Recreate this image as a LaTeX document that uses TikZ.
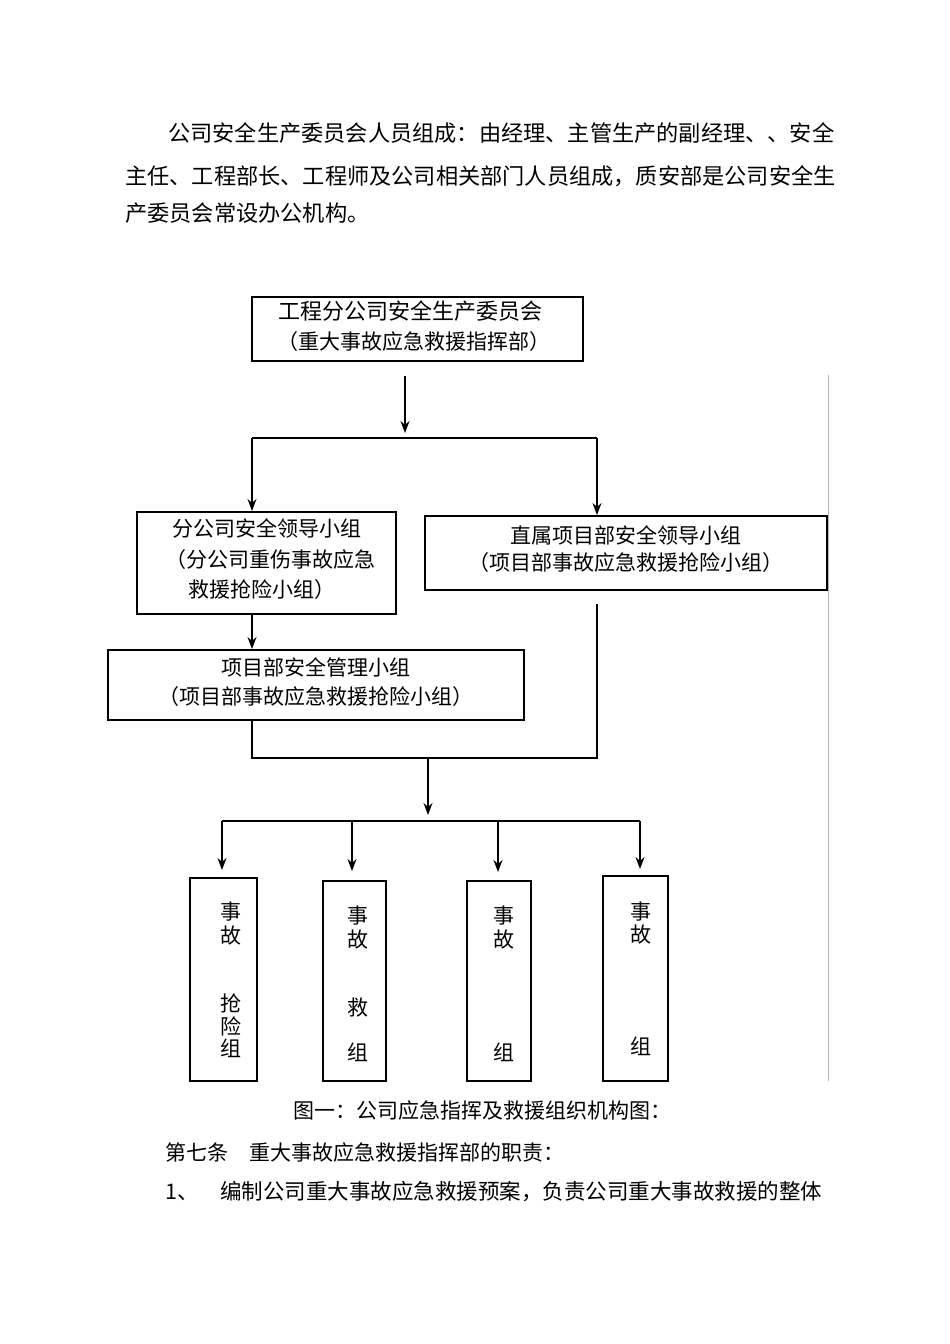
\documentclass[tikz,border=0pt]{standalone}
\usepackage{fontspec}
\setmainfont{Noto Sans CJK SC}
\usetikzlibrary{arrows.meta}
\begin{document}
\begin{tikzpicture}[x=1pt,y=-1pt,
  box/.style={draw,line width=1.3pt},
  ln/.style={line width=1.3pt},
  arr/.style={line width=1.3pt,-{Stealth[length=12pt,width=9pt]}},
  t/.style={font=\fontsize{21}{24}\selectfont,inner sep=0pt},
  p/.style={font=\fontsize{22.2}{28}\selectfont,inner sep=0pt,anchor=west}]
\useasboundingbox (0,0) rectangle (950,1344);
\node[p] (l1) at (168,133) {公司安全生产委员会人员组成：由经理、主管生产的副经理、、安全};
\node[p] (l2) at (125,176) {主任、工程部长、工程师及公司相关部门人员组成，质安部是公司安全生};
\node[p] (l3) at (125,213) {产委员会常设办公机构。};
% top box
\draw[box] (252,297) rectangle (583,361);
\node[t,font=\fontsize{22}{24}\selectfont] (a1) at (410,311) {工程分公司安全生产委员会};
\node[t] (a2) at (414,342) {（重大事故应急救援指挥部）};
\coordinate (a) at (405,376); \coordinate (ab) at (405,433);
\draw[arr] (a) -- (ab);
\coordinate (hL) at (252,438); \coordinate (hR) at (597,438);
\draw[ln] (hL) -- (hR);
\coordinate (bL) at (252,511); \coordinate (bR) at (597,515);
\draw[arr] (hL) -- (bL);
\draw[arr] (hR) -- (bR);
% left box
\draw[box] (137,512) rectangle (396,614);
\node[t] at (267,528) {分公司安全领导小组};
\node[t] at (270,560) {（分公司重伤事故应急};
\node[t] at (262,590) {救援抢险小组）};
% right box
\draw[box] (425,516) rectangle (827,590);
\node[t] at (626,535) {直属项目部安全领导小组};
\node[t] at (626,563) {（项目部事故应急救援抢险小组）};
\coordinate (c1) at (252,614); \coordinate (c2) at (252,649);
\draw[arr] (c1) -- (c2);
% project box
\draw[box] (108,650) rectangle (524,720);
\node[t] at (316,667) {项目部安全管理小组};
\node[t] at (316,697) {（项目部事故应急救援抢险小组）};
\coordinate (m1) at (252,720); \coordinate (m2) at (252,758);
\coordinate (n1) at (597,604); \coordinate (n2) at (597,758);
\draw[ln] (m1) -- (m2) -- (n2) -- (n1);
\coordinate (o1) at (428,758); \coordinate (o2) at (428,815);
\draw[arr] (o1) -- (o2);
\coordinate (g1) at (222,821); \coordinate (g4) at (640,821);
\draw[ln] (g1) -- (g4);
\foreach \x/\y in {222/870,352/871,498/872,640/869}
  \draw[arr] (\x,821) -- (\x,\y);
% bottom boxes
\draw[box] (190,878) rectangle (257,1081);
\draw[box] (323,881) rectangle (386,1081);
\draw[box] (467,881) rectangle (531,1081);
\draw[box] (603,876) rectangle (668,1081);
\node[t] at (231,912) {事}; \node[t] at (231,936) {故};
\node[t] at (231,1003) {抢}; \node[t] at (231,1026) {险}; \node[t] at (231,1048) {组};
\node[t] at (358,916) {事}; \node[t] at (358,940) {故};
\node[t] at (358,1007) {救}; \node[t] at (358,1052) {组};
\node[t] at (504,916) {事}; \node[t] at (504,940) {故}; \node[t] at (504,1052) {组};
\node[t] at (641,912) {事}; \node[t] at (641,935) {故}; \node[t] at (641,1046) {组};
\draw[line width=0.6pt,gray!60] (828,375) -- (828,1081);
\node[t] (cap) at (482,1110) {图一：公司应急指挥及救援组织机构图：};
\node[t,anchor=west] (s7) at (165,1152) {第七条　重大事故应急救援指挥部的职责：};
\node[t,anchor=west,font=\fontsize{21.5}{24}\selectfont] (s1) at (165,1192) {1、　编制公司重大事故应急救援预案，负责公司重大事故救援的整体};
\end{tikzpicture}
\end{document}
